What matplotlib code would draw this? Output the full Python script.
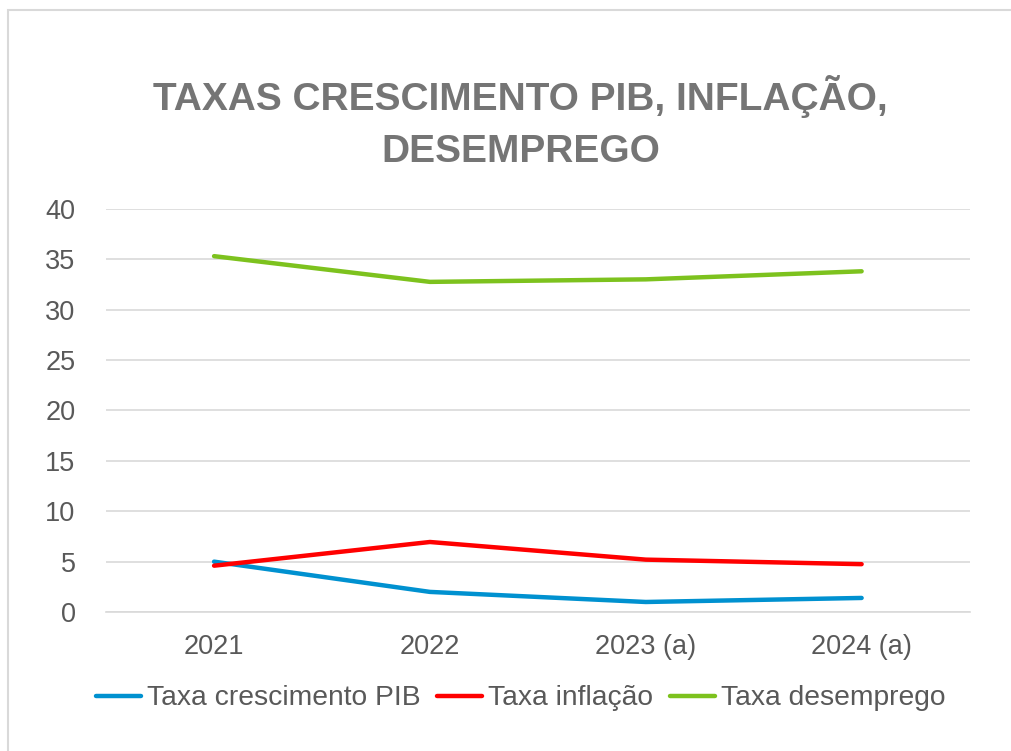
import matplotlib

matplotlib.use("Agg")
import matplotlib.pyplot as plt
from matplotlib.patches import Rectangle
from matplotlib.font_manager import fontManager

YEARS = ["2021", "2022", "2023 (a)", "2024 (a)"]
PIB = [5.0, 2.0, 1.0, 1.4]
INFLACAO = [4.6, 6.95, 5.2, 4.75]
DESEMPREGO = [35.3, 32.75, 33.0, 33.8]

SERIES = [
    ("Taxa crescimento PIB", PIB, "#0091D0"),
    ("Taxa inflação", INFLACAO, "#FF0000"),
    ("Taxa desemprego", DESEMPREGO, "#7DC21E"),
]

TEXT_COLOR = "#595959"
TITLE_COLOR = "#757575"
GRID_COLOR = "#D9D9D9"

names = {f.name for f in fontManager.ttflist}
BODY_FONT = ["Liberation Sans", "DejaVu Sans"]
TITLE_FONT = ["Liberation Sans Narrow", "Liberation Sans", "DejaVu Sans"]
plt.rcParams["font.family"] = BODY_FONT

fig = plt.figure(figsize=(10.11, 7.51), dpi=100)
fig.patches.append(
    Rectangle((0.008, -0.1), 1.2, 1.087, transform=fig.transFigure,
              fill=False, edgecolor="#D9D9D9", linewidth=1.5)
)

ax = fig.add_axes([0.105, 0.185, 0.854, 0.537])
x = range(len(YEARS))
for label, vals, color in SERIES:
    ax.plot(x, vals, color=color, linewidth=3.2, solid_capstyle="round", label=label)

ax.set_xlim(-0.5, len(YEARS) - 0.5)
ax.set_ylim(0, 40)
ax.set_yticks(range(0, 41, 5))
ax.set_xticks(list(x))
ax.set_xticklabels(YEARS)
ax.grid(True, axis="y", color=GRID_COLOR, linewidth=1.2)
ax.set_axisbelow(True)
for side in ("top", "right", "left"):
    ax.spines[side].set_visible(False)
ax.spines["bottom"].set_color(GRID_COLOR)
ax.spines["bottom"].set_linewidth(1.2)
ax.tick_params(axis="both", length=0, labelsize=19.5, labelcolor=TEXT_COLOR)
ax.tick_params(axis="y", pad=22)
ax.tick_params(axis="x", pad=16)

title_kw = dict(ha="center", va="center", fontsize=32, fontweight="bold",
                color=TITLE_COLOR, family=TITLE_FONT)
if "Liberation Sans Narrow" not in names:
    title_kw["fontsize"] = 28
fig.text(0.515, 0.871, "TAXAS CRESCIMENTO PIB, INFLAÇÃO,", **title_kw)
fig.text(0.515, 0.797, "DESEMPREGO", **title_kw)

leg = fig.legend(loc="center", bbox_to_anchor=(0.515, 0.07), ncol=3,
                 frameon=False, fontsize=20.3, handlelength=1.6,
                 handletextpad=0.2, columnspacing=0.6)
for t in leg.get_texts():
    t.set_color(TEXT_COLOR)

fig.savefig("out.png", dpi=100)
